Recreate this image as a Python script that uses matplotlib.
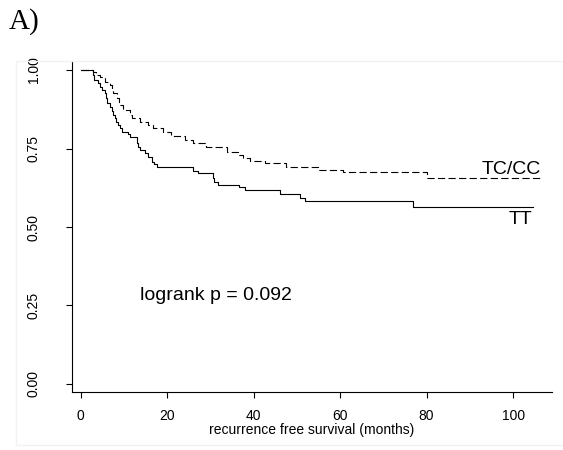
import matplotlib
matplotlib.use("Agg")
import matplotlib.pyplot as plt
from matplotlib.patches import Rectangle

# ---- data ----
tt_times = [0, 2.8, 3.2, 4.0, 4.5, 5.0, 5.6, 5.8, 6.0, 6.8, 7.2, 7.5, 7.9, 8.2, 8.7,
            9.1, 9.5, 11.0, 11.4, 13.0, 13.3, 13.7, 14.9, 15.6, 16.4, 17.0, 17.6,
            26.0, 27.2, 30.5, 30.8, 31.8, 36.6, 38.0, 46.1, 50.7, 51.9, 76.9, 104.7]
tt_surv = [1.0, 0.984, 0.968, 0.958, 0.947, 0.937, 0.926, 0.910, 0.894, 0.883, 0.870,
           0.857, 0.846, 0.835, 0.825, 0.814, 0.804, 0.795, 0.786, 0.766, 0.756,
           0.745, 0.735, 0.724, 0.708, 0.700, 0.692, 0.679, 0.671, 0.655, 0.644,
           0.634, 0.626, 0.618, 0.604, 0.593, 0.584, 0.565, 0.565]

tc_times = [0, 2.9, 3.6, 4.5, 5.6, 6.8, 7.2, 7.5, 8.3, 8.9, 9.9, 11.4, 11.8, 13.7,
            15.6, 16.8, 19.1, 21.0, 24.1, 26.0, 29.1, 33.8, 36.5, 37.6, 39.2, 42.6,
            47.6, 55.0, 60.7, 80.0, 106.2]
tc_surv = [1.0, 0.995, 0.984, 0.979, 0.963, 0.952, 0.937, 0.926, 0.910, 0.889, 0.873,
           0.857, 0.846, 0.835, 0.825, 0.814, 0.804, 0.790, 0.777, 0.766, 0.756,
           0.740, 0.729, 0.719, 0.710, 0.703, 0.692, 0.682, 0.676, 0.655, 0.655]

x_ticks = [0, 20, 40, 60, 80, 100]
y_ticks = [0.00, 0.25, 0.50, 0.75, 1.00]
y_tick_labels = ["0.00", "0.25", "0.50", "0.75", "1.00"]
group_labels = ["TT", "TC/CC"]
pvalue_text = "logrank p = 0.092"

plt.rcParams['font.family'] = ['Liberation Sans', 'DejaVu Sans']

W, H = 563, 450
fig = plt.figure(figsize=(W / 100, H / 100), dpi=100)

# faint frame around the graph region
fig.patches.append(Rectangle((16 / W, 1 - 445 / H), (W - 16) / W, (445 - 61) / H,
                             transform=fig.transFigure, fill=False,
                             edgecolor='#f2f2f2', linewidth=1.0))

ax = fig.add_axes([72 / W, 1 - 392 / H, (552 - 72) / W, (392 - 61) / H])

ax.step(tt_times, tt_surv, where='post', color='black', linewidth=0.8)
ax.step(tc_times, tc_surv, where='post', color='black', linewidth=0.8,
        linestyle=(0, (6.5, 3.0)))

ax.set_xlim(-2.0, 109.0)
ax.set_ylim(-0.0255, 1.0287)

for s in ['top', 'right']:
    ax.spines[s].set_visible(False)
for s in ['left', 'bottom']:
    ax.spines[s].set_linewidth(0.8)

ax.set_xticks(x_ticks)
ax.set_xticklabels([str(v) for v in x_ticks], fontsize=10)
ax.set_yticks(y_ticks)
ax.set_yticklabels(y_tick_labels, fontsize=10, rotation=90, va='center')
ax.tick_params(axis='x', length=4, width=0.8, pad=8)
ax.tick_params(axis='y', length=4, width=0.8, pad=18.5)

ax.set_xlabel("recurrence free survival (months)", fontsize=10, labelpad=0)

ax.text(92.8, 0.669, group_labels[1], fontsize=14, va='baseline', ha='left')
ax.text(98.9, 0.508, group_labels[0], fontsize=14, va='baseline', ha='left')
ax.text(13.7, 0.268, pvalue_text, fontsize=14, va='baseline', ha='left')

fig.text(9 / W, 1 - 22 / H, "A)", fontsize=21, family=['Liberation Serif', 'DejaVu Serif'],
         va='center', ha='left')

fig.savefig("out.png", dpi=100)
